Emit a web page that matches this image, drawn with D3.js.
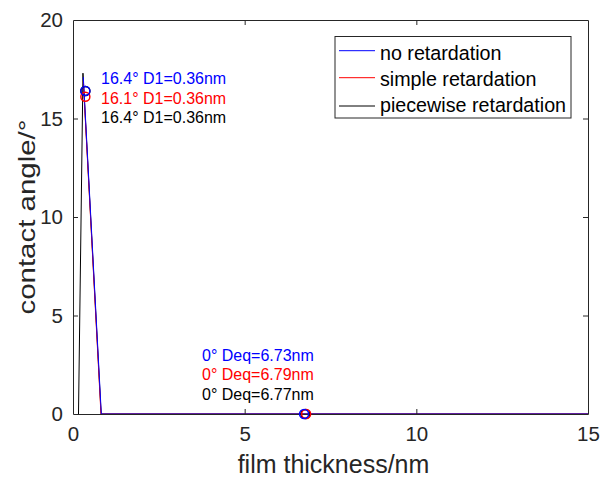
<!DOCTYPE html>
<html>
<head>
<meta charset="utf-8">
<script src="https://cdn.jsdelivr.net/npm/d3@7"></script>
<style>
  html, body { margin: 0; padding: 0; background: #fff; }
  svg { display: block; font-family: "Liberation Sans", Arial, sans-serif; }
</style>
</head>
<body>
<svg id="chart" width="602" height="479"></svg>
<script>
// Contact angle vs film thickness for three retardation models
const xTicks = [0, 5, 10, 15];
const yTicks = [0, 5, 10, 15, 20];

const noRetX = [0.30, 0.825, 15];
const noRetY = [17.1, 0, 0];
const simpleX = [0.30, 0.815, 15];
const simpleY = [16.9, 0, 0];
const pieceX = [0.16, 0.29, 0.82, 15];
const pieceY = [0, 17.3, 0, 0];

const seriesNames = ["no retardation", "simple retardation", "piecewise retardation"];
const seriesColors = ["#0000ff", "#ff0000", "#000000"];

// Maximum (angle, D1) and equilibrium (0°, Deq) markers per model
const peakAngle = [16.4, 16.1, 16.4];
const peakD1 = [0.36, 0.36, 0.36];
const eqAngle = [0, 0, 0];
const eqD = [6.73, 6.79, 6.77];

const svg = d3.select("#chart");
const m = { left: 73, right: 588, top: 20, bottom: 414 };
const x = d3.scaleLinear().domain([0, 15]).range([m.left, m.right]);
const y = d3.scaleLinear().domain([0, 20]).range([m.bottom, m.top]);
const axisColor = "#262626";

// plot background
svg.append("rect").attr("x", m.left).attr("y", m.top)
  .attr("width", m.right - m.left).attr("height", m.bottom - m.top).attr("fill", "#fff");

const line = d3.line().x(d => x(d[0])).y(d => y(d[1]));
const series = [
  { xs: pieceX, ys: pieceY, c: seriesColors[2] },
  { xs: simpleX, ys: simpleY, c: seriesColors[1] },
  { xs: noRetX, ys: noRetY, c: seriesColors[0] }
];
series.forEach(s => {
  svg.append("path").datum(s.xs.map((v, i) => [v, s.ys[i]]))
    .attr("d", line).attr("fill", "none").attr("stroke", s.c).attr("stroke-width", 1);
});

// axes with inward ticks on all four sides
const tickLen = 5;
const gB = svg.append("g").attr("transform", `translate(0,${m.bottom})`)
  .call(d3.axisBottom(x).tickValues(xTicks).tickSizeInner(-tickLen).tickSizeOuter(0).tickPadding(12));
const gT = svg.append("g").attr("transform", `translate(0,${m.top})`)
  .call(d3.axisTop(x).tickValues(xTicks).tickSizeInner(-tickLen).tickSizeOuter(0).tickFormat(""));
const gL = svg.append("g").attr("transform", `translate(${m.left},0)`)
  .call(d3.axisLeft(y).tickValues(yTicks).tickSizeInner(-tickLen).tickSizeOuter(0).tickPadding(10));
const gR = svg.append("g").attr("transform", `translate(${m.right},0)`)
  .call(d3.axisRight(y).tickValues(yTicks).tickSizeInner(-tickLen).tickSizeOuter(0).tickFormat(""));
[gB, gT, gL, gR].forEach(g => {
  g.select(".domain").attr("stroke", axisColor).attr("stroke-width", 1);
  g.selectAll(".tick line").attr("stroke", axisColor);
  g.selectAll(".tick text").attr("fill", "#262626")
    .style("font-family", "Liberation Sans, Arial, sans-serif").style("font-size", "20.5px");
});
// ticks at the box corners would double the frame; hide them
gB.selectAll(".tick line").filter(d => d === 0 || d === 15).remove();
gT.selectAll(".tick line").filter(d => d === 0 || d === 15).remove();
gL.selectAll(".tick line").filter(d => d === 0 || d === 20).remove();
gR.selectAll(".tick line").filter(d => d === 0 || d === 20).remove();

// markers: black first so blue sits on top where they coincide
[2, 1, 0].forEach(i => {
  svg.append("circle").attr("cx", x(peakD1[i])).attr("cy", y(peakAngle[i])).attr("r", 4.5)
    .attr("fill", "none").attr("stroke", seriesColors[i]).attr("stroke-width", 1.5);
  svg.append("circle").attr("cx", x(eqD[i])).attr("cy", y(eqAngle[i])).attr("r", 4.5)
    .attr("fill", "none").attr("stroke", seriesColors[i]).attr("stroke-width", 1.5);
});

// value annotations
const peakBase = [84, 103.5, 123];
const eqBase = [360.5, 380, 400];
[0, 1, 2].forEach(i => {
  svg.append("text").attr("x", 101).attr("y", peakBase[i])
    .attr("fill", seriesColors[i]).style("font-size", "16px")
    .text(`${peakAngle[i].toFixed(1)}° D1=${peakD1[i].toFixed(2)}nm`);
  svg.append("text").attr("x", 202).attr("y", eqBase[i])
    .attr("fill", seriesColors[i]).style("font-size", "16px")
    .text(`${eqAngle[i]}° Deq=${eqD[i].toFixed(2)}nm`);
});

// axis titles
svg.append("text").attr("x", (m.left + m.right) / 2 + 3).attr("y", 473)
  .attr("text-anchor", "middle").attr("fill", "#262626").style("font-size", "25px")
  .text("film thickness/nm");
svg.append("text").attr("transform", `translate(35,${(m.top + m.bottom) / 2}) rotate(-90)`)
  .attr("text-anchor", "middle").attr("fill", "#262626").style("font-size", "24px")
  .attr("textLength", 195).attr("lengthAdjust", "spacingAndGlyphs")
  .text("contact angle/°");

// legend
const lg = svg.append("g");
lg.append("rect").attr("x", 335).attr("y", 36.5).attr("width", 236).attr("height", 81.5)
  .attr("fill", "#fff").attr("stroke", axisColor).attr("stroke-width", 1);
const legY = [50.7, 77.7, 106];
const legBase = [59.5, 86, 112];
seriesNames.forEach((name, i) => {
  lg.append("line").attr("x1", 339).attr("x2", 375).attr("y1", legY[i]).attr("y2", legY[i])
    .attr("stroke", seriesColors[i]).attr("stroke-width", 1);
  lg.append("text").attr("x", 380).attr("y", legBase[i]).attr("fill", "#000")
    .style("font-size", "19.7px").text(name);
});
</script>
</body>
</html>
